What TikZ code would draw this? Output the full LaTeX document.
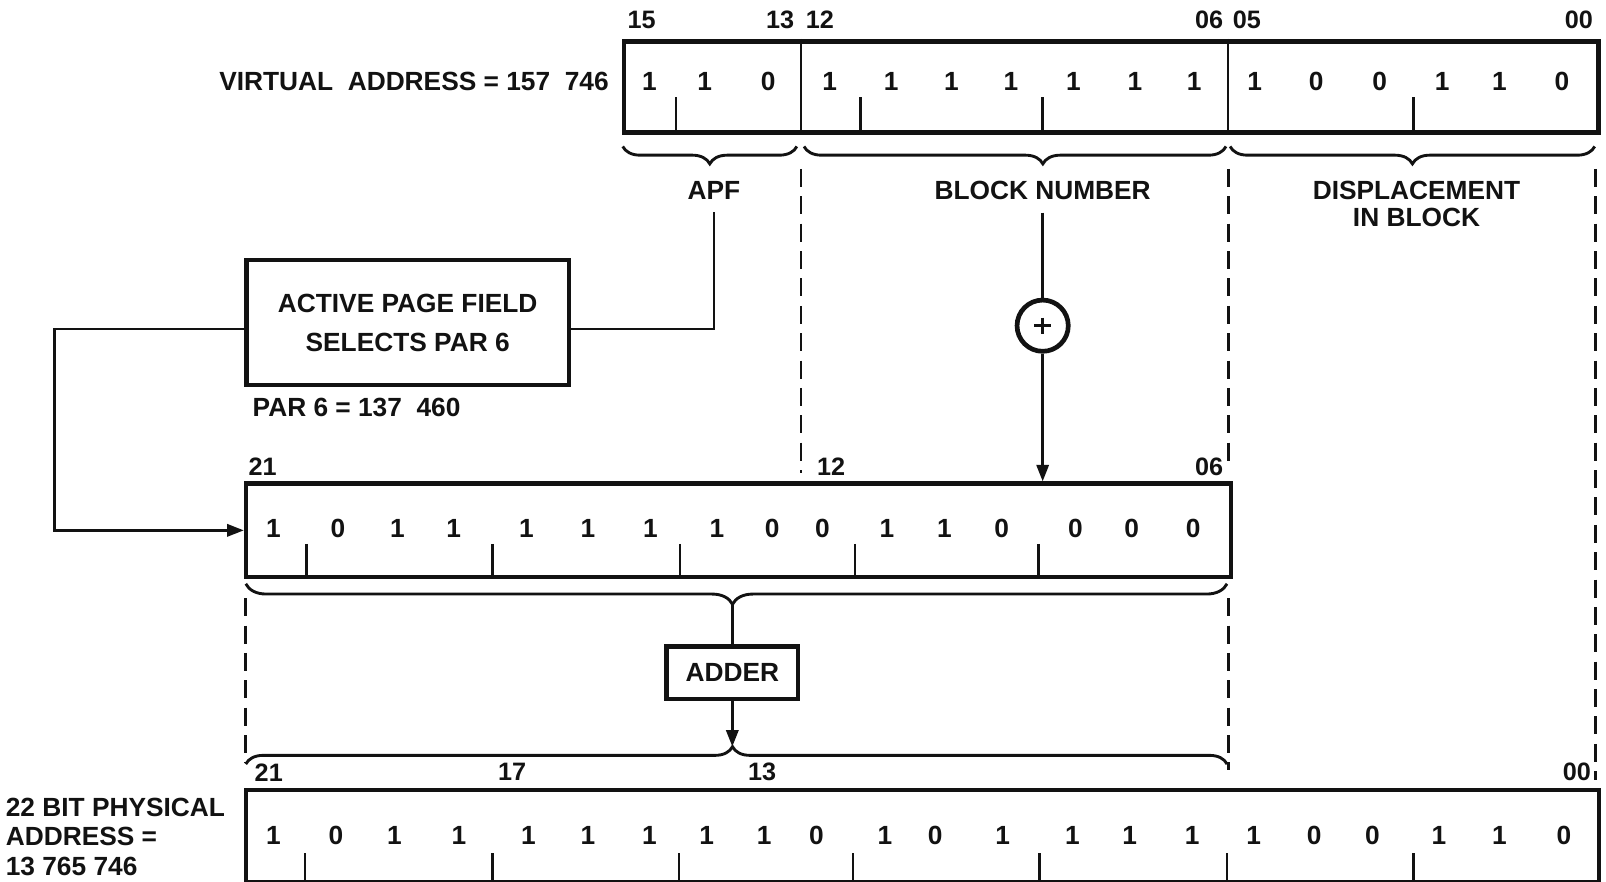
\documentclass[tikz,border=0pt]{standalone}
\usepackage{fontspec}
\setmainfont{Liberation Sans}
\usetikzlibrary{positioning, arrows.meta, decorations.pathreplacing}
\definecolor{ink}{RGB}{18,18,18}

\begin{document}
\begin{tikzpicture}[x=0.01cm, y=-0.01cm, ink,
  font=\fontsize{7.3}{8.3}\selectfont\bfseries,
  register/.style={draw=ink, line width=1.3pt, inner sep=0pt, anchor=north west},
  thinline/.style={line width=0.7pt},
  guide/.style={line width=0.8pt, dash pattern=on 5pt off 2.6pt},
  bitlabel/.style={font=\fontsize{7}{8}\selectfont\bfseries, inner sep=0pt},
  arr/.style={line width=0.7pt, -{Triangle[length=4.6pt, width=3.4pt]}},
  curly/.style={line width=0.8pt, decorate, decoration={brace, mirror, amplitude=#1}}]
  \useasboundingbox (0,0) rectangle (1568,861);

  % virtual address register
  \node[anchor=east, inner sep=0pt] (vlabel) at (595,80) {VIRTUAL\ \ ADDRESS = 157\ \ 746};
  \node[register, minimum width=9.51cm, minimum height=0.89cm] (va) at (607,38) {};
  \draw[thinline] (782,38) -- (782,127) (1199,38) -- (1199,127);
  \foreach \x in {660,840,1018,1380} \draw[thinline] (\x,95) -- (\x,127);
  \foreach \x/\b [count=\i] in {634/1,688/1,750/0,810/1,870/1,929/1,987/1,1048/1,1108/1,1166/1,
      1225/1,1285/0,1347/0,1408/1,1464/1,1525/0}
    \node (v\i) at (\x,80) {\b};
  \node[bitlabel, anchor=west] (v15) at (612,19) {15};
  \node[bitlabel, anchor=east] (v13) at (776,19) {13};
  \node[bitlabel, anchor=west] (v12) at (786,19) {12};
  \node[bitlabel, anchor=east] (v06) at (1195,19) {06};
  \node[bitlabel, anchor=west] (v05) at (1203,19) {05};
  \node[bitlabel, anchor=east] (v00) at (1556,19) {00};

  % fields
  \draw[curly=0.17cm] (608,143) -- (778,143);
  \draw[curly=0.17cm, decoration={aspect=0.566}] (785,143) -- (1197,143);
  \draw[curly=0.17cm] (1201,143) -- (1557,143);
  \node (apf) at (697,186) {APF};
  \node (blk) at (1018,186) {BLOCK NUMBER};
  \node[align=center, font=\fontsize{7.3}{7.5}\selectfont\bfseries] (disp) at (1383,199)
    {DISPLACEMENT\\IN BLOCK};
  \draw[guide] (782,165) -- (782,462);
  \draw[guide] (1199,165) -- (1199,452);
  \draw[guide] (1558,165) -- (1558,762);

  % page address register
  \node[draw=ink, line width=1.3pt, minimum width=3.15cm, minimum height=1.22cm, align=center,
        font=\fontsize{7.3}{10.8}\selectfont\bfseries] (apfbox) at (398,315)
    {ACTIVE PAGE FIELD\\SELECTS PAR 6};
  \node[anchor=west, inner sep=0pt] (parval) at (246,398) {PAR 6 = 137\ \ 460};
  \draw[thinline] (apf) |- ([yshift=-0.06cm]apfbox.east);
  \node[draw=ink, circle, line width=1.3pt, minimum size=0.5cm, inner sep=0pt] (sum) at (1018,318) {};
  \draw[line width=0.9pt] (sum.center) ++(-8,0) -- ++(16,0) (sum.center) ++(0,-8) -- ++(0,16);
  \draw[thinline] (blk) -- (sum);

  \node[register, minimum width=9.61cm, minimum height=0.91cm] (par6reg) at (238,470) {};
  \foreach \x in {299,481,664,835,1014} \draw[thinline] (\x,531) -- (\x,561);
  \foreach \x/\b [count=\i] in {267/1,330/0,388/1,443/1,514/1,574/1,635/1,700/1,754/0,803/0,
      866/1,922/1,978/0,1050/0,1105/0,1165/0}
    \node (p\i) at (\x,516) {\b};
  \node[bitlabel, anchor=west] (p21) at (242,456) {21};
  \node[bitlabel, anchor=west] (p12) at (797,456) {12};
  \node[bitlabel, anchor=east] (p06) at (1195,456) {06};
  \draw[arr] ([yshift=-0.06cm]apfbox.west) -- ++(-185,0) |- (par6reg.west);
  \draw[arr] (sum) -- (sum |- par6reg.north);

  % adder
  \draw[curly=0.2cm, decoration={aspect=0.496}] (240,570) -- (1198,570);
  \draw[guide] (240,584) -- (240,745);
  \draw[guide] (1199,584) -- (1199,752);
  \coordinate (sumtip) at (715,590);
  \node[draw=ink, line width=1.3pt, minimum width=1.28cm, minimum height=0.51cm] (adder) at (715,657) {ADDER};
  \coordinate (addtip) at (715,729);
  \draw[thinline] (sumtip) -- (adder);
  \draw[arr] (adder) -- (addtip);
  \draw[curly=0.17cm, decoration={mirror=false, aspect=0.496}] (240,746) -- (1198,746);

  % physical address register
  \node[anchor=west, align=left, inner sep=0pt, font=\fontsize{7.3}{8.1}\selectfont\bfseries] (phys)
    at (5,817) {22 BIT PHYSICAL\\ADDRESS =\\13 765 746};
  \node[register, minimum width=13.2cm, minimum height=0.9cm] (pa) at (238,769) {};
  \foreach \x in {298,481,663,833,1015,1198,1380} \draw[thinline] (\x,833) -- (\x,859);
  \foreach \x/\b [count=\i] in {267/1,328/0,385/1,448/1,516/1,574/1,634/1,690/1,746/1,797/0,864/1,
      913/0,979/1,1047/1,1103/1,1164/1,1224/1,1283/0,1340/0,1405/1,1464/1,1527/0}
    \node (a\i) at (\x,816) {\b};
  \node[bitlabel, anchor=west] (a21) at (248,754) {21};
  \node[bitlabel] (a17) at (500,754) {17};
  \node[bitlabel] (a13) at (744,754) {13};
  \node[bitlabel, anchor=east] (a00) at (1554,754) {00};
\end{tikzpicture}
\end{document}
